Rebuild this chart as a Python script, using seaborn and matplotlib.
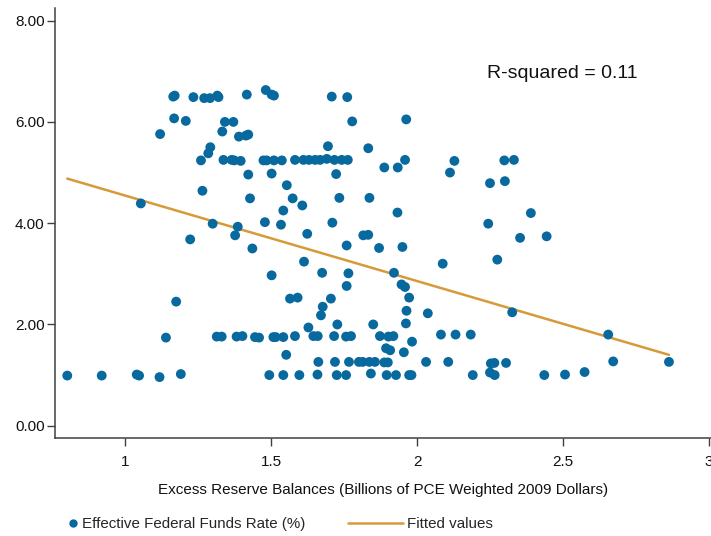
import numpy as np
import pandas as pd
import matplotlib
matplotlib.use("Agg")
import matplotlib.pyplot as plt
from matplotlib.lines import Line2D
import seaborn as sns

# Excess reserve balances (billions of PCE-weighted 2009 dollars)
reserves = [
    1.165, 1.170, 1.234, 1.271, 1.291, 1.316, 1.320, 1.417, 1.482, 1.502, 1.510, 1.708, 1.761,
    1.168, 1.208, 1.342, 1.371, 1.778, 1.963,
    1.120, 1.333, 1.390, 1.414, 1.422,
    1.292, 1.285, 1.695, 1.833,
    1.260, 1.337, 1.365, 1.374, 1.396, 1.474, 1.485, 1.510, 1.537, 1.582, 1.611, 1.630,
    1.651, 1.668, 1.691, 1.717, 1.742, 1.763, 1.959, 2.128, 2.299, 2.332,
    1.888, 1.934, 2.113, 1.422, 1.502, 1.723, 2.250, 2.301, 1.554, 1.265,
    1.428, 1.574, 1.734, 1.837, 1.054, 1.607, 1.542, 1.933, 2.390,
    1.479, 1.300, 1.710, 2.244, 1.534, 1.386, 1.377, 1.223, 1.624, 1.816, 1.833, 2.353, 2.444,
    1.436, 1.759, 1.870, 1.950, 2.275, 2.088, 1.613,
    1.502, 1.675, 1.765, 1.921, 1.759, 1.947, 1.959, 1.175, 1.565, 1.591, 1.705, 1.973,
    1.677, 1.671, 1.964, 2.037, 2.326,
    1.628, 1.727, 1.850, 1.962,
    1.140, 1.314, 1.331, 1.382, 1.402, 1.445, 1.459, 1.508, 1.516, 1.542, 1.582, 1.645,
    1.660, 1.716, 1.757, 1.774, 1.873, 1.902, 1.919, 2.082, 2.132, 2.184, 2.655,
    1.983, 1.894, 1.908, 1.955, 1.552,
    1.662, 1.719, 1.767, 1.801, 1.814, 1.837, 1.856, 1.888, 1.900, 2.031, 2.107,
    2.253, 2.265, 2.305, 2.672, 2.863,
    0.802, 0.920, 1.040, 1.048, 1.118, 1.191, 1.494, 1.542, 1.597, 1.659, 1.725, 1.757,
    1.842, 1.896, 1.928, 1.973, 1.981, 2.191, 2.250, 2.266, 2.436, 2.507, 2.574,
]

# Effective federal funds rate (%)
fed_funds = [
    6.50, 6.52, 6.49, 6.47, 6.47, 6.52, 6.49, 6.54, 6.63, 6.54, 6.52, 6.50, 6.49,
    6.07, 6.02, 6.00, 6.00, 6.01, 6.05,
    5.76, 5.81, 5.71, 5.73, 5.75,
    5.50, 5.38, 5.52, 5.48,
    5.24, 5.25, 5.25, 5.24, 5.23, 5.24, 5.24, 5.24, 5.24, 5.25, 5.25, 5.25,
    5.25, 5.25, 5.27, 5.25, 5.25, 5.25, 5.25, 5.23, 5.24, 5.25,
    5.10, 5.10, 5.00, 4.96, 4.98, 4.97, 4.79, 4.83, 4.75, 4.64,
    4.49, 4.49, 4.50, 4.50, 4.39, 4.35, 4.25, 4.21, 4.20,
    4.02, 3.99, 4.01, 3.99, 3.97, 3.93, 3.76, 3.68, 3.79, 3.76, 3.77, 3.71, 3.74,
    3.50, 3.56, 3.51, 3.53, 3.28, 3.20, 3.24,
    2.97, 3.02, 3.01, 3.02, 2.76, 2.79, 2.74, 2.45, 2.51, 2.53, 2.51, 2.53,
    2.35, 2.18, 2.27, 2.22, 2.24,
    1.94, 2.00, 2.00, 2.02,
    1.74, 1.76, 1.76, 1.76, 1.77, 1.75, 1.74, 1.75, 1.75, 1.75, 1.77, 1.77,
    1.77, 1.77, 1.76, 1.77, 1.77, 1.76, 1.77, 1.80, 1.80, 1.80, 1.80,
    1.66, 1.53, 1.49, 1.45, 1.40,
    1.26, 1.26, 1.26, 1.26, 1.26, 1.26, 1.26, 1.25, 1.25, 1.26, 1.26,
    1.23, 1.24, 1.24, 1.27, 1.26,
    0.99, 0.99, 1.01, 0.99, 0.96, 1.02, 1.00, 1.00, 1.00, 1.01, 1.00, 1.00,
    1.03, 1.00, 1.00, 1.00, 1.00, 1.00, 1.05, 1.00, 1.00, 1.01, 1.06,
]

# Linear fit of the funds rate on reserves
fit_intercept = 6.235
fit_slope = -1.689
r_squared = 0.11

x_ticks = [1, 1.5, 2, 2.5, 3]
x_tick_labels = ["1", "1.5", "2", "2.5", "3"]
y_ticks = [0, 2, 4, 6, 8]
y_tick_labels = ["0.00", "2.00", "4.00", "6.00", "8.00"]

df = pd.DataFrame({"reserves": reserves, "ffr": fed_funds})
fit_x = np.array([min(reserves), max(reserves)])
fit_df = pd.DataFrame({"reserves": fit_x, "fitted": fit_intercept + fit_slope * fit_x})

DOT = "#07699d"
FIT = "#d69a38"
AXIS = "#404040"
TEXT = "#111111"

sns.set_theme(style="white")
plt.rcParams["font.family"] = ["Liberation Sans", "DejaVu Sans"]

fig = plt.figure(figsize=(7.11, 5.36), dpi=100)
ax = fig.add_axes([55 / 711, 1 - 437.7 / 536, 656 / 711, (437.7 - 8) / 536])

sns.scatterplot(data=df, x="reserves", y="ffr", ax=ax, color=DOT, s=50,
                edgecolor="none", linewidth=0, zorder=3, legend=False)
sns.lineplot(data=fit_df, x="reserves", y="fitted", ax=ax, color=FIT,
             linewidth=1.8, zorder=2, legend=False)

ax.set_xlim(0.760, 3.007)
ax.set_ylim(-0.237, 8.25)
ax.set_xticks(x_ticks)
ax.set_xticklabels(x_tick_labels)
ax.set_yticks(y_ticks)
ax.set_yticklabels(y_tick_labels)

for side in ("top", "right"):
    ax.spines[side].set_visible(False)
for side in ("left", "bottom"):
    ax.spines[side].set_color(AXIS)
    ax.spines[side].set_linewidth(1.1)

ax.tick_params(axis="both", which="major", direction="out", length=5.5, width=1.0,
               color=AXIS, labelsize=11, labelcolor=TEXT,
               left=True, bottom=True)
ax.tick_params(axis="x", pad=7)
ax.tick_params(axis="y", pad=2)

ax.set_xlabel("Excess Reserve Balances (Billions of PCE Weighted 2009 Dollars)",
              fontsize=11, color=TEXT, labelpad=10)
ax.set_ylabel("")

ax.text(2.24, 6.96, f"R-squared = {r_squared:.2f}", fontsize=14, color=TEXT,
        ha="left", va="center")

# Legend entries along the bottom of the figure
dot_handle = Line2D([], [], linestyle="none", marker="o", markersize=6,
                    markerfacecolor=DOT, markeredgecolor="none")
line_handle = Line2D([], [], color=FIT, linewidth=1.8)
leg_y = 1 - 524 / 536
fig.legend(handles=[dot_handle], labels=["Effective Federal Funds Rate (%)"],
           loc="center left", bbox_to_anchor=(68.5 / 711, leg_y), frameon=False,
           fontsize=10.9, handlelength=0.6, handletextpad=0.3, borderpad=0,
           borderaxespad=0)
fig.legend(handles=[line_handle], labels=["Fitted values"],
           loc="center left", bbox_to_anchor=(348 / 711, leg_y), frameon=False,
           fontsize=10.9, handlelength=3.6, handletextpad=0.33, borderpad=0,
           borderaxespad=0)

fig.savefig("out.png", dpi=100)
